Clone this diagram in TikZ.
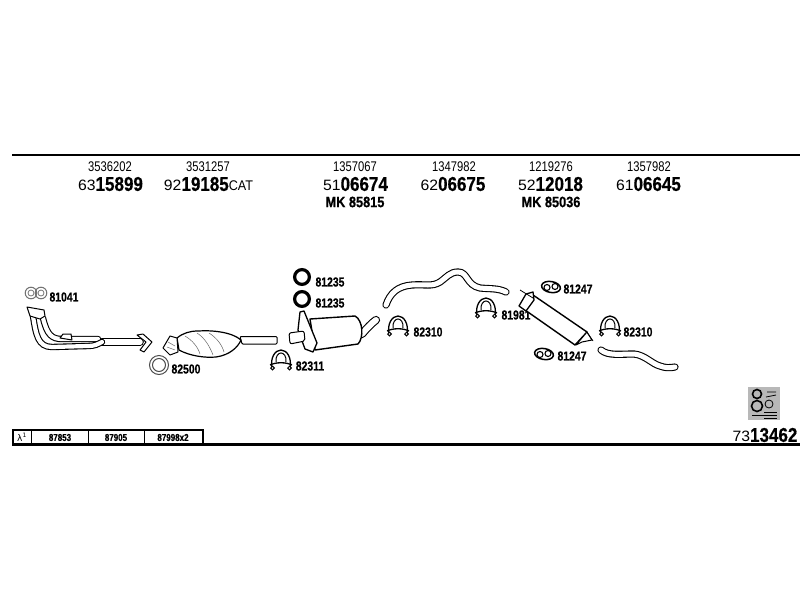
\documentclass[tikz,border=0pt]{standalone}
\usepackage{graphicx}
\usepackage{fontspec}
\setmainfont{Liberation Sans}
\newfontfamily\heavyfont[FakeBold=0.6]{Liberation Sans Bold}
\newcommand{\oldno}[1]{\scalebox{0.8}[1]{\fontsize{14}{14}\selectfont #1}}
\newcommand{\newno}[3]{\scalebox{1.05}[1]{\fontsize{15}{20}\selectfont #1}\scalebox{0.85}[1]{\fontsize{20}{20}\heavyfont #2}\scalebox{0.9}[1]{\fontsize{14}{20}\selectfont\rmfamily #3}}
\newcommand{\mkno}[1]{\scalebox{0.85}[1]{\fontsize{15}{15}\heavyfont #1}}
\newcommand{\partno}[1]{\scalebox{0.8}[1]{\fontsize{13}{13}\heavyfont #1}}
\tikzset{
    txt/.style={inner sep=0pt},
    tube/.style={draw=black,double=white,double distance=5pt,line width=1.1pt,line cap=round},
    part/.style={draw=black,line width=1pt,fill=white,line join=round},
    shade line/.style={draw=black!60,line width=0.5pt},
    main rule/.style={line width=2.2pt},
    ringseal/.pic={
        \draw[line width=3.2pt] (0,0) circle (7.4);
    },
    thinseal/.pic={
        \draw[line width=1pt,draw=black!70] (0,0) circle (9.5);
        \draw[line width=1pt,draw=black!70] (0,0) circle (6.5);
    },
    dualseal/.pic={
        \draw[line width=1pt,draw=black!55] (-5,0) circle (5.8);
        \draw[line width=1pt,draw=black!55] (5,0) circle (5.8);
        \draw[line width=0.8pt,draw=black!55] (-5,0) circle (3);
        \draw[line width=0.8pt,draw=black!55] (5,0) circle (3);
    },
    gasket/.pic={
        \draw[line width=1.5pt,rotate=-10] (0,0) ellipse (9.5 and 5.5);
        \draw[line width=1.1pt,fill=white] (-4,0.5) circle (3);
        \draw[line width=1.1pt,fill=white] (4,-0.5) circle (3);
    },
    ubolt/.pic={
        \draw[line width=1.3pt] (-9,7) .. controls (-11,-3) and (-6,-11) .. (0,-11) .. controls (6,-11) and (11,-3) .. (9,7);
        \draw[line width=1pt] (-5,1) .. controls (-6,-11) and (6,-11) .. (5,1);
        \draw[line width=1.3pt] (-11,4) .. controls (-5,1) and (5,1) .. (11,4);
        \draw[line width=1pt,fill=white] (-8.5,7) circle (1.8);
        \draw[line width=1pt,fill=white] (8.5,7) circle (1.8);
    },
}
\begin{document}
\begin{tikzpicture}[x=1pt,y=-1pt]
\useasboundingbox (0,0) rectangle (800,600);
% rules
\draw[main rule] (12,155) -- (800,155);
\draw[main rule] (12,444.5) -- (800,444.5);
% numbers on top
\node[txt] (old1) at (110,167) {\oldno{3536202}};
\node[txt] (old2) at (208,167) {\oldno{3531257}};
\node[txt] (old3) at (355,167) {\oldno{1357067}};
\node[txt] (old4) at (454,167) {\oldno{1347982}};
\node[txt] (old5) at (551,167) {\oldno{1219276}};
\node[txt] (old6) at (649,167) {\oldno{1357982}};
\node[txt] (new1) at (110.5,184) {\newno{63}{15899}{}};
\node[txt] (new2) at (208.5,184) {\newno{92}{19185}{CAT}};
\node[txt] (new3) at (355.5,184) {\newno{51}{06674}{}};
\node[txt] (new4) at (453,184) {\newno{62}{06675}{}};
\node[txt] (new5) at (550.5,184) {\newno{52}{12018}{}};
\node[txt] (new6) at (648.5,184) {\newno{61}{06645}{}};
\node[txt] (mk1) at (355,202) {\mkno{MK 85815}};
\node[txt] (mk2) at (551,202) {\mkno{MK 85036}};
% front pipe
\pic at (36,293) {dualseal};
\node[txt] (lab81041) at (64,297) {\partno{81041}};
\draw[tube,double distance=5.5pt] (102,342) -- (140,342);
\draw[tube,double distance=4.2pt] (43,318) .. controls (47,335) and (52,339) .. (62,339) -- (98,339);
\draw[tube,double distance=4.2pt] (33,316) .. controls (36,335) and (38,347) .. (52,347) -- (88,346) .. controls (95,346) and (98,344) .. (102,342);
\draw[part] (27,307) -- (44,310) -- (45,316) -- (40,319) -- (30,316) -- cycle;
\draw[part] (60,338) -- (63,334) -- (71,334) -- (72,340) -- cycle;
\draw[part] (137,335) -- (143,334) -- (152,342) -- (144,352) -- (140,350) -- (146,342) -- cycle;
% cat
\draw[part,rounded corners=1pt] (240,336.5) -- (277,336.5) -- (277,344) -- (242,344) -- cycle;
\draw[part,line width=1.2pt] (177,338) .. controls (183,333) and (190,331) .. (198,331) .. controls (212,330) and (232,332) .. (241,340) .. controls (238,347) and (230,355) .. (216,357) .. controls (205,358) and (190,356) .. (179,350) -- cycle;
\draw[shade line] (185,336) .. controls (192,340) and (198,347) .. (200,354);
\draw[shade line] (197,333) .. controls (205,338) and (210,347) .. (213,355);
\draw[shade line] (209,333) .. controls (217,338) and (222,345) .. (224,352);
\draw[part] (163,348) -- (170,336) -- (177,338) -- (178,352) -- (170,355) -- cycle;
\draw[shade line] (168,342) -- (175,346) (167,347) -- (175,350);
\pic at (159,365) {thinseal};
\node[txt] (lab82500) at (186,369) {\partno{82500}};
% middle silencer
\pic at (302,277) {ringseal};
\pic at (302,299) {ringseal};
\node[txt] (lab81235a) at (330,282) {\partno{81235}};
\node[txt] (lab81235b) at (330,303) {\partno{81235}};
\draw[tube,double distance=6pt] (362,334) .. controls (367,328) and (372,323) .. (376,320);
\draw[part,line width=1.4pt] (310,319) -- (355,316) .. controls (363,320) and (364,338) .. (358,344) -- (315,350) -- cycle;
\draw[part,line width=1.3pt] (300,312) -- (304,311) -- (317,343) -- (313,352) -- (305,349) -- (298,330) -- cycle;
\draw[part,rounded corners=2pt] (289,333) -- (304,331) -- (305,341) -- (290,344) -- cycle;
\pic at (281,361) {ubolt};
\node[txt] (lab82311) at (310,366) {\partno{82311}};
% long pipe
\draw[tube] (386,305) .. controls (390,293) and (398,286) .. (412,285) .. controls (425,284) and (432,287) .. (440,282) .. controls (447,277) and (450,272) .. (458,272) .. controls (468,272) and (466,285) .. (480,288) .. controls (490,289) and (498,288) .. (506,292);
\pic at (398,327) {ubolt};
\node[txt] (lab82310a) at (428,332) {\partno{82310}};
\pic at (486,309) {ubolt};
% rear silencer
\node[txt] (lab81981) at (516,315) {\partno{81981}};
\draw[part,line width=1.4pt] (533,295) -- (587,332) -- (575,345) -- (525,310) -- cycle;
\draw[part] (587,332) -- (592,340) -- (582,342) -- (576,345) -- cycle;
\draw[line width=0.8pt] (586,331) -- (593,341);
\draw[part,line width=1.3pt] (526,294) -- (533,292) -- (534,300) -- (526,311) -- (519,306) -- cycle;
\draw[line width=0.8pt] (520,290) -- (533,298);
\pic at (551,287) {gasket};
\node[txt] (lab81247a) at (578,289) {\partno{81247}};
\pic at (544,354) {gasket};
\node[txt] (lab81247b) at (572,356) {\partno{81247}};
\pic at (610,327) {ubolt};
\node[txt] (lab82310b) at (638,332) {\partno{82310}};
% tail pipe
\draw[tube] (601,350) .. controls (608,356) and (620,354) .. (634,354) .. controls (645,355) and (652,364) .. (660,366) .. controls (665,368) and (670,368) .. (675,367);
% table of extras
\draw[line width=1.3pt] (13,430) rectangle (203,444);
\draw[line width=1pt] (31,430) -- (31,444);
\draw[line width=1pt] (88,430) -- (88,444);
\draw[line width=1pt] (144,430) -- (144,444);
\node[txt] (lam) at (22,437.5) {\fontspec{DejaVu Sans}\fontsize{9}{9}\selectfont λ\textsuperscript{1}};
\node[txt] (ext1) at (60,437.5) {\partno{\fontsize{10}{10}\selectfont 87853}};
\node[txt] (ext2) at (116,437.5) {\partno{\fontsize{10}{10}\selectfont 87905}};
\node[txt] (ext3) at (173,437.5) {\partno{\fontsize{10}{10}\selectfont 87998x2}};
% manual icon
\fill[black!28] (748,387) rectangle (780,420);
\draw[line width=1.6pt] (757,394) circle (4.5);
\draw[line width=1.6pt] (757,406) circle (5.5);
\draw[line width=0.8pt] (767,392) -- (776,392) (766,397) -- (776,395);
\draw[line width=0.8pt] (769,404) circle (4);
\draw[line width=0.8pt] (752,415) -- (777,415) (764,412) -- (777,412) (764,418) -- (777,418);
\node[txt] (newcat) at (765,435) {\newno{73}{13462}{}};
\end{tikzpicture}
\end{document}
